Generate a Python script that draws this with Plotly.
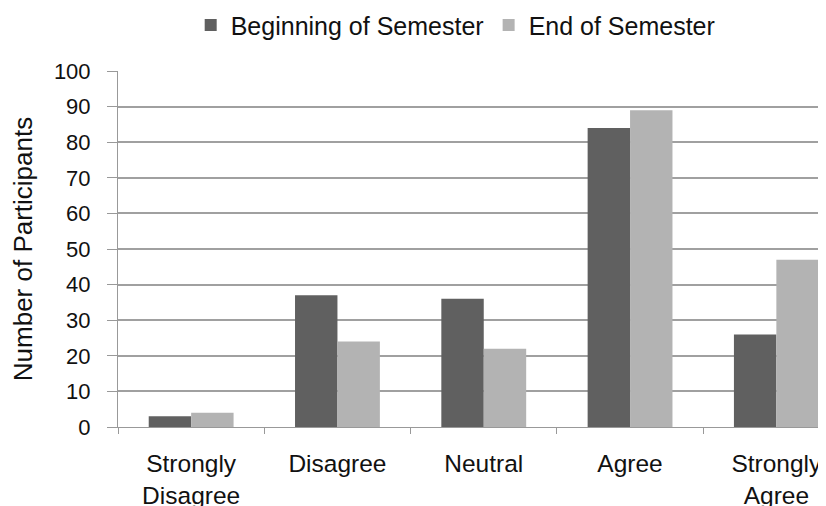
import plotly.graph_objects as go

categories = ["Strongly<br>Disagree", "Disagree", "Neutral", "Agree", "Strongly<br>Agree"]
beginning = [3, 37, 36, 84, 26]
end = [4, 24, 22, 89, 47]
series_names = ["Beginning of Semester", "End of Semester"]
y_ticks = [0, 10, 20, 30, 40, 50, 60, 70, 80, 90, 100]

FONT = "Liberation Sans, Arial, sans-serif"

fig = go.Figure()
fig.add_trace(go.Bar(x=categories, y=beginning, name=series_names[0],
                     marker=dict(color="#606060", line=dict(width=0))))
fig.add_trace(go.Bar(x=categories, y=end, name=series_names[1],
                     marker=dict(color="#b3b3b3", line=dict(width=0))))

fig.update_layout(
    width=826, height=506,
    margin=dict(l=110, r=0, t=63, b=87, autoexpand=False),
    paper_bgcolor="white", plot_bgcolor="white",
    barmode="group", bargap=0.42, bargroupgap=0,
    font=dict(family=FONT, color="#111111"),
    legend=dict(orientation="h", xref="container", x=0.542, xanchor="center",
                yref="container", y=0.966, yanchor="middle",
                font=dict(size=25, family=FONT),
                traceorder="normal", itemwidth=30),
    showlegend=True,
)

fig.update_xaxes(
    type="category", range=[-0.5, 4.394], automargin=False,
    showline=True, linecolor="#999999", linewidth=1,
    ticks="outside", tickson="boundaries", ticklen=6, tickcolor="#999999",
    tickfont=dict(size=24.5, family=FONT, color="#111111"),
    ticklabelstandoff=15,
    showgrid=False,
)
fig.update_yaxes(
    range=[0, 100], tickvals=y_ticks, automargin=False,
    showline=True, linecolor="#999999", linewidth=1,
    ticks="outside", ticklen=10, tickcolor="#999999",
    tickfont=dict(size=22, family=FONT, color="#111111"),
    ticklabelstandoff=12,
    showgrid=True, gridcolor="#a0a0a0", gridwidth=1.6,
    zeroline=False,
    title=dict(text="Number of Participants", font=dict(size=26, family=FONT, color="#111111"),
               standoff=23),
)

fig.write_html("out.html")
